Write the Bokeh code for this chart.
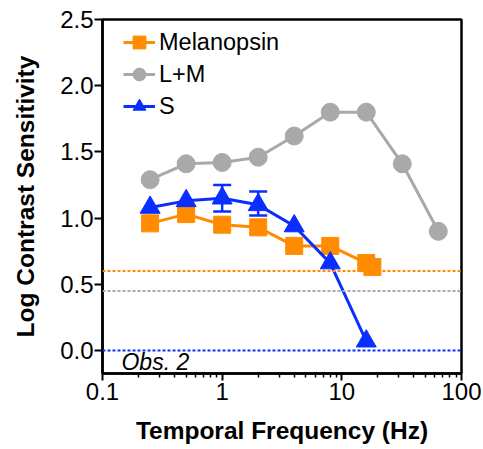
from bokeh.plotting import figure
from bokeh.models import (FixedTicker, Span, Whisker, ColumnDataSource, Label,
                          TeeHead, Legend, LegendItem)
from bokeh.embed import file_html
from bokeh.resources import INLINE

# ---- data ----
freq_mel = [0.25, 0.5, 1, 2, 4, 8, 16, 18]
mel = [0.96, 1.03, 0.95, 0.93, 0.79, 0.79, 0.66, 0.63]

freq_lm = [0.25, 0.5, 1, 2, 4, 8, 16, 32, 64]
lm = [1.29, 1.41, 1.42, 1.46, 1.62, 1.80, 1.80, 1.41, 0.90]

freq_s = [0.25, 0.5, 1, 2, 4, 8, 16]
s_vals = [1.08, 1.13, 1.15, 1.10, 0.94, 0.66, 0.07]

err_freq = [1, 2]
err_lower = [1.05, 1.02]
err_upper = [1.25, 1.20]

thresholds = [0.60, 0.45, 0.0]  # melanopsin, L+M, S

x_ticks = [0.1, 1, 10, 100]
x_tick_labels = ["0.1", "1", "10", "100"]
y_ticks = [0.0, 0.5, 1.0, 1.5, 2.0, 2.5]
y_tick_labels = ["0.0", "0.5", "1.0", "1.5", "2.0", "2.5"]

ORANGE = "#FF8C00"
GRAY = "#A9A9A9"
BLUE = "#0A2EFF"
FONT = "Liberation Sans"

p = figure(width=483, height=449, x_axis_type="log",
           x_range=(0.1, 100), y_range=(-0.174, 2.5),
           output_backend="svg", toolbar_location=None,
           min_border_left=102, min_border_top=19,
           min_border_right=22, min_border_bottom=76)
p.frame_width = 359
p.frame_height = 354

p.grid.visible = False
p.outline_line_color = "black"
p.outline_line_width = 2.5
p.outline_line_alpha = 1
p.background_fill_color = "white"
p.border_fill_color = "white"

# axes
minor = [m * d for d in [0.1, 1, 10] for m in range(2, 10)]
p.xaxis.ticker = FixedTicker(ticks=x_ticks, minor_ticks=minor)
p.xaxis.major_label_overrides = {t: l for t, l in zip(x_ticks, x_tick_labels)}
p.yaxis.ticker = FixedTicker(ticks=y_ticks)
p.yaxis.major_label_overrides = {t: l for t, l in zip(y_ticks, y_tick_labels)}

for ax in (p.xaxis, p.yaxis):
    ax.axis_line_width = 2.5
    ax.axis_line_color = "black"
    ax.major_tick_line_width = 2
    ax.minor_tick_line_width = 1.5
    ax.major_tick_in = 0
    ax.minor_tick_in = 0
    ax.major_label_text_font = FONT
    ax.major_label_text_font_size = "24px"
    ax.major_label_text_color = "black"
    ax.axis_label_text_font = FONT
    ax.axis_label_text_font_size = "24.5px"
    ax.axis_label_text_font_style = "bold"
    ax.axis_label_text_color = "black"

p.xaxis.major_tick_out = 7
p.xaxis.minor_tick_out = 4
p.xaxis.major_label_standoff = 2
p.xaxis.axis_label_standoff = 14
p.yaxis.major_tick_out = 8
p.yaxis.minor_tick_out = 0
p.yaxis.major_label_standoff = 1
p.yaxis.axis_label_standoff = 18

p.xaxis.axis_label = "Temporal Frequency (Hz)"
p.yaxis.axis_label = "Log Contrast Sensitivity"

# threshold lines
for val, col in zip(thresholds, [ORANGE, GRAY, BLUE]):
    p.add_layout(Span(location=val, dimension="width", line_color=col,
                      line_width=2, line_dash="3 2"))

# series
l_lm = p.line(freq_lm, lm, line_color=GRAY, line_width=3)
m_lm = p.scatter(freq_lm, lm, marker="circle", size=18, fill_color=GRAY,
                 line_color=GRAY)

l_mel = p.line(freq_mel, mel, line_color=ORANGE, line_width=3)
m_mel = p.scatter(freq_mel, mel, marker="square", size=17, fill_color=ORANGE,
                  line_color=ORANGE)

src_err = ColumnDataSource(dict(base=err_freq, lower=err_lower, upper=err_upper))
p.add_layout(Whisker(source=src_err, base="base", lower="lower", upper="upper",
                     line_color=BLUE, line_width=2.5,
                     upper_head=TeeHead(size=18, line_color=BLUE, line_width=2.5),
                     lower_head=TeeHead(size=18, line_color=BLUE, line_width=2.5)))

l_s = p.line(freq_s, s_vals, line_color=BLUE, line_width=3)
m_s = p.scatter(freq_s, s_vals, marker="triangle", size=20, fill_color=BLUE,
                line_color=BLUE)

p.add_layout(Label(x=0.144, y=-0.09, text="Obs. 2", text_font=FONT,
                   text_font_size="23px", text_font_style="italic",
                   text_color="black", text_baseline="middle"))

legend = Legend(items=[
    LegendItem(label="Melanopsin", renderers=[l_mel, m_mel]),
    LegendItem(label="L+M", renderers=[l_lm, m_lm]),
    LegendItem(label="S", renderers=[l_s, m_s]),
], location=(21, 251))
legend.margin = 0
legend.padding = 0
legend.spacing = 0
legend.glyph_width = 32
legend.glyph_height = 32
legend.label_height = 26
legend.label_standoff = 4
legend.border_line_color = None
legend.background_fill_alpha = 0
legend.label_text_font = FONT
legend.label_text_font_size = "23.5px"
legend.label_text_color = "black"
p.add_layout(legend)

open("out.html", "w").write(file_html(p, INLINE))
